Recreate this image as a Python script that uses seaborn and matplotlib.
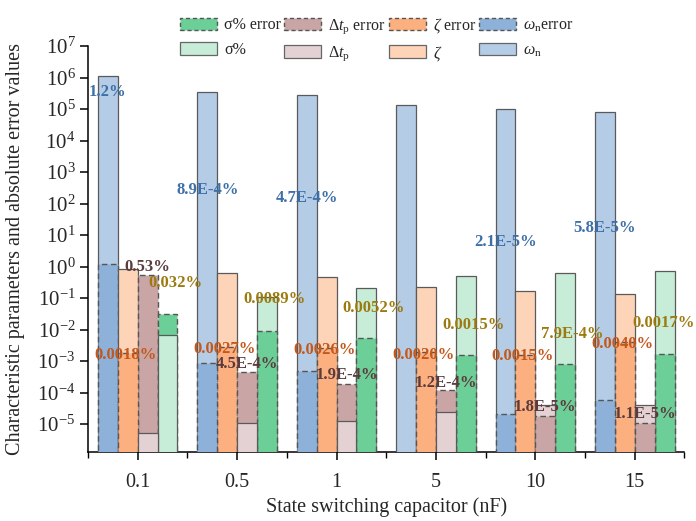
import numpy as np
import pandas as pd
import matplotlib
matplotlib.use("Agg")
import matplotlib.pyplot as plt
from matplotlib.patches import Patch
from matplotlib.ticker import LogLocator, NullLocator, FixedLocator
import seaborn as sns

# ---- data -------------------------------------------------------------
capacitors = ["0.1", "0.5", "1", "5", "10", "15"]
params = ["wn", "zeta", "dtp", "sigma"]

# characteristic parameter values
wn_value = [1.12e6, 3.5e5, 2.8e5, 1.34e5, 9.8e4, 7.9e4]
zeta_value = [0.85, 0.61, 0.475, 0.23, 0.17, 0.134]
dtp_value = [5.3e-6, 1.05e-5, 1.25e-5, 2.35e-5, 3.9e-5, 4.1e-5]
sigma_value = [6.7e-3, 0.11, 0.21, 0.51, 0.64, 0.70]

# errors (%)
wn_error = [1.2, 8.9e-4, 4.7e-4, np.nan, 2.1e-5, 5.8e-5]
zeta_error = [0.0018, 0.0027, 0.0026, 0.0020, 0.0015, 0.0040]
dtp_error = [0.53, 4.5e-4, 1.9e-4, 1.2e-4, 1.8e-5, 1.1e-5]
sigma_error = [0.032, 0.0089, 0.0052, 0.0015, 7.9e-4, 0.0017]

# ---- styling ------------------------------------------------------------
light = ["#b4cce6", "#fed4b9", "#e4d1d3", "#c7ecd7"]
dark = ["#8db1d9", "#fdb07f", "#c9a5a5", "#6ccf98"]
text_colors = ["#3d6fa8", "#c2581c", "#5b3b3d", "#9c7a0f"]
# horizontal shift of each annotation from its bar centre
label_dx = [
    [0.0] * 6,
    [-0.025] * 6,
    [0.0] * 6,
    [0.075, 0.075, 0.075, 0.075, 0.075, -0.015],
]
# vertical placement (log10) of the error annotations, per parameter
label_logy = [
    [5.54, 2.43, 2.18, np.nan, 0.78, 1.22],
    [-2.81, -2.62, -2.65, -2.81, -2.84, -2.46],
    [-0.02, -3.10, -3.44, -3.70, -4.46, -4.68],
    [-0.52, -1.03, -1.32, -1.86, -2.14, -1.79],
]

sns.set_style("ticks")
plt.rcParams["font.family"] = ["Liberation Serif", "DejaVu Serif"]
plt.rcParams["mathtext.fontset"] = "custom"
plt.rcParams["mathtext.rm"] = "Liberation Serif"
plt.rcParams["mathtext.it"] = "Liberation Serif:italic"
plt.rcParams["mathtext.bf"] = "Liberation Serif:bold"

values = [wn_value, zeta_value, dtp_value, sigma_value]
errors = [wn_error, zeta_error, dtp_error, sigma_error]

val_df = pd.DataFrame(
    [(c, p, v) for p, vals in zip(params, values) for c, v in zip(capacitors, vals)],
    columns=["cap", "param", "y"],
)
err_df = pd.DataFrame(
    [(c, p, v) for p, vals in zip(params, errors) for c, v in zip(capacitors, vals)
     if not np.isnan(v)],
    columns=["cap", "param", "y"],
)

fig = plt.figure(figsize=(6.96, 5.21), dpi=100)
ax = fig.add_axes([0.1264, 0.133, 0.857, 0.7787])

sns.barplot(data=val_df, x="cap", y="y", hue="param", order=capacitors,
            hue_order=params, palette=light, saturation=1, width=0.8,
            dodge=True, errorbar=None, edgecolor="#5a5a5a", linewidth=0.9,
            legend=False, ax=ax)
sns.barplot(data=err_df, x="cap", y="y", hue="param", order=capacitors,
            hue_order=params, palette=dark, saturation=1, width=0.8,
            dodge=True, errorbar=None, edgecolor="#555555", linewidth=1.0,
            linestyle=(0, (4, 2.5)), legend=False, ax=ax)

# the shorter of two overlapping bars sits in front
for p in ax.patches:
    h = p.get_height()
    if np.isfinite(h) and h > 0:
        p.set_zorder(5 - np.log10(h) / 100.0)

ax.set_yscale("log")
ax.set_ylim(1.32e-6, 1e7)
ax.set_xlim(-0.5, 5.5)
ax.yaxis.set_major_locator(LogLocator(base=10, numticks=30))
ax.yaxis.set_minor_locator(NullLocator())
ax.xaxis.set_minor_locator(FixedLocator(np.arange(-0.5, 5.6, 1.0)))

sns.despine(ax=ax)
for s in ["left", "bottom"]:
    ax.spines[s].set_linewidth(1.1)
    ax.spines[s].set_color("black")
ax.tick_params(axis="both", which="major", direction="out", length=6,
               width=1.1, labelsize=15, color="black", pad=3)
ax.tick_params(axis="x", which="minor", direction="out", length=4, width=1.0,
               color="black")
ax.tick_params(axis="x", which="major", pad=9, labelsize=14.5)

ax.set_xlabel("State switching capacitor (nF)", fontsize=14.5, labelpad=4)
ax.set_ylabel("Characteristic parameters and absolute error values",
              fontsize=14.5)
ax.yaxis.set_label_coords(-0.105, 0.5)


def fmt_pct(v):
    if v < 1e-3:
        s = f"{v:.1E}".replace("E-0", "E-").replace("E+0", "E")
    else:
        d = int(-np.floor(np.log10(v))) + 1
        s = f"{v:.{d}f}"
    return s + "%"


for k in range(len(params)):
    for i, v in enumerate(errors[k]):
        if np.isnan(v):
            continue
        x = i - 0.3 + 0.2 * k + label_dx[k][i]
        ax.text(x, 10 ** label_logy[k][i], fmt_pct(v), ha="center",
                va="center", fontsize=12, fontweight="bold",
                color=text_colors[k], zorder=20)

# legend
names = ["$\\omega_\\mathrm{n}$", "$\\zeta$", "$\\Delta t_\\mathrm{p}$", "\u03c3%"]
err_names = ["$\\omega_\\mathrm{n}$error", "$\\zeta$ error",
             "$\\Delta t_\\mathrm{p}$ error", "\u03c3% error"]
handles, labels = [], []
for k in [3, 2, 1, 0]:
    handles.append(Patch(facecolor=dark[k], edgecolor="#555555",
                         linestyle=(0, (3, 2)), linewidth=1.0))
    labels.append(err_names[k])
    handles.append(Patch(facecolor=light[k], edgecolor="#666666",
                         linewidth=0.9))
    labels.append(names[k])
fig.legend(handles, labels, ncol=4, loc="upper left",
           bbox_to_anchor=(180 / 696, 1 - 16 / 521), frameon=False,
           fontsize=11.5, handlelength=2.3, handleheight=0.85,
           columnspacing=0.2, handletextpad=0.45, labelspacing=0.55,
           borderpad=0, borderaxespad=0)

fig.savefig("out.png", dpi=100)
